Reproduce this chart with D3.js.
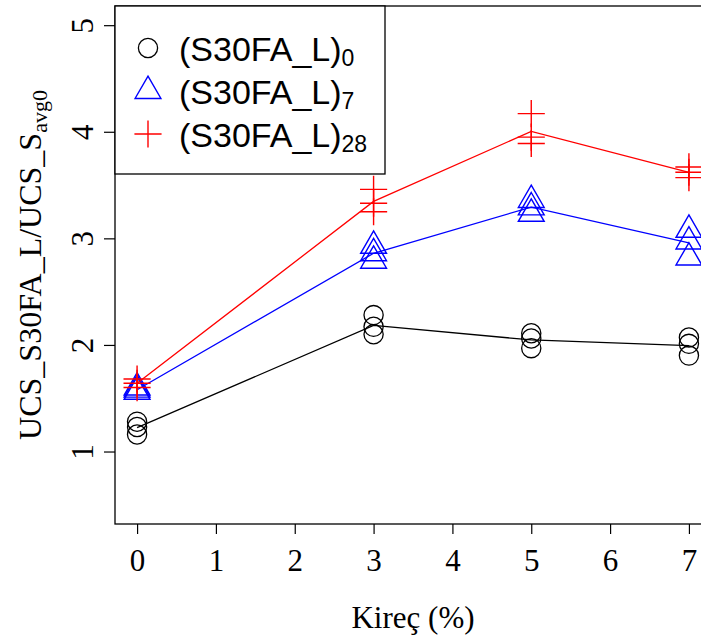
<!DOCTYPE html>
<html><head><meta charset="utf-8">
<script src="https://cdn.jsdelivr.net/npm/d3@7"></script>
<style>html,body{margin:0;padding:0;background:#fff;overflow:hidden}</style>
</head><body>
<script>
// ---- data ----
const kirec = [0, 3, 5, 7];
const s30fa0  = [[1.28,1.23,1.16],[2.28,2.17,2.10],[2.11,2.06,1.97],[2.07,2.01,1.90]];
const s30fa7  = [[1.60,1.58,1.56],[2.93,2.86,2.79],[3.36,3.29,3.23],[3.08,2.97,2.82]];
const s30fa28 = [[1.68,1.64,1.60],[3.46,3.33,3.25],[4.17,3.95,3.89],[3.67,3.62,3.57]];
const xTicks = [0,1,2,3,4,5,6,7];
const yTicks = [1,2,3,4,5];
const legendLabels = ["(S30FA_L)", "(S30FA_L)", "(S30FA_L)"];
const legendSubs = ["0", "7", "28"];

(function () {
const W = 701, H = 636;
const svg = d3.select("body").append("svg").attr("width", W).attr("height", H);

const pLeft = 115, pTop = 6, pBottom = 524, pRight = 711;
const x = d3.scaleLinear().domain([-0.28, 7.28]).range([pLeft, pRight]);
const y = d3.scaleLinear().domain([0.32, 5.18]).range([pBottom, pTop]);

const serif = "'Liberation Serif','Times New Roman',serif";
const sans = "'Liberation Sans',Arial,Helvetica,sans-serif";

// axes
const xAxis = d3.axisBottom(x).tickValues(xTicks).tickSize(10).tickPadding(15).tickFormat(d3.format("d"));
const gx = svg.append("g").attr("transform", `translate(0,${pBottom})`).call(xAxis);
gx.select(".domain").remove();
gx.selectAll("line").attr("stroke", "#000").attr("stroke-width", 1.2);
gx.selectAll("text").attr("font-family", serif).attr("font-size", 31).attr("fill", "#000");

const yAxis = d3.axisLeft(y).tickValues(yTicks).tickSize(11).tickPadding(0).tickFormat(d3.format("d"));
const gy = svg.append("g").attr("transform", `translate(${pLeft},0)`).call(yAxis);
gy.select(".domain").remove();
gy.selectAll("line").attr("stroke", "#000").attr("stroke-width", 1.2);
gy.selectAll("text")
  .attr("font-family", serif).attr("font-size", 31).attr("fill", "#000")
  .attr("x", null).attr("dy", null)
  .attr("text-anchor", "middle")
  .attr("transform", "translate(-22,0) rotate(-90)")
  .attr("y", 0);

// box
svg.append("rect").attr("x", pLeft).attr("y", pTop).attr("width", pRight - pLeft).attr("height", pBottom - pTop)
  .attr("fill", "none").attr("stroke", "#000").attr("stroke-width", 1.3);

// axis titles
svg.append("text").attr("x", (pLeft + pRight) / 2).attr("y", 628).attr("text-anchor", "middle")
  .attr("font-family", serif).attr("font-size", 31).text("Kireç (%)");

const yl = svg.append("text").attr("transform", `translate(41,${(pTop + pBottom) / 2}) rotate(-90)`)
  .attr("text-anchor", "middle").attr("font-family", serif).attr("font-size", 32);
yl.append("tspan").text("UCS_S30FA_L/UCS_S");
yl.append("tspan").attr("font-size", 22).attr("dy", 6).text("avg0");

// symbols
const rC = 9.6, rT = rC * 1.555, rP = rC * Math.SQRT2;
function triPath(r) {
  const xc = r * Math.sqrt(3) / 2;
  return `M0,${-r}L${xc},${r / 2}L${-xc},${r / 2}Z`;
}
function drawSym(g, type, color) {
  if (type === 0) g.append("circle").attr("r", rC).attr("fill", "none").attr("stroke", color).attr("stroke-width", 1.3);
  else if (type === 1) g.append("path").attr("d", triPath(rT)).attr("fill", "none").attr("stroke", color).attr("stroke-width", 1.4);
  else g.append("path").attr("d", `M${-rP},0H${rP}M0,${-rP}V${rP}`).attr("fill", "none").attr("stroke", color).attr("stroke-width", 1.4);
}

const series = [
  {vals: s30fa0, color: "#000000", type: 0},
  {vals: s30fa7, color: "#0000FF", type: 1},
  {vals: s30fa28, color: "#FF0000", type: 2}
];

const plot = svg.append("g");
series.forEach(s => {
  const means = s.vals.map((v, i) => [kirec[i], d3.mean(v)]);
  plot.append("path").datum(means)
    .attr("d", d3.line().x(d => x(d[0])).y(d => y(d[1])))
    .attr("fill", "none").attr("stroke", s.color).attr("stroke-width", 1.3);
  s.vals.forEach((v, i) => {
    v.forEach(val => {
      const g = plot.append("g").attr("transform", `translate(${x(kirec[i])},${y(val)})`);
      drawSym(g, s.type, s.color);
    });
  });
});

// legend
const lg = svg.append("g");
lg.append("rect").attr("x", pLeft).attr("y", pTop).attr("width", 385 - pLeft).attr("height", 174 - pTop)
  .attr("fill", "#fff").attr("stroke", "#000").attr("stroke-width", 1.3);
const rowY = [48, 91, 134];
series.forEach((s, i) => {
  const g = lg.append("g").attr("transform", `translate(148,${rowY[i]})`);
  drawSym(g, s.type, s.color);
  const t = lg.append("text").attr("x", 179).attr("y", rowY[i] + 13)
    .attr("font-family", sans).attr("font-size", 34).attr("fill", "#000");
  t.append("tspan").text(legendLabels[i]);
  t.append("tspan").attr("font-size", 23).attr("dy", 5).text(legendSubs[i]);
});
})();
</script>
</body></html>
